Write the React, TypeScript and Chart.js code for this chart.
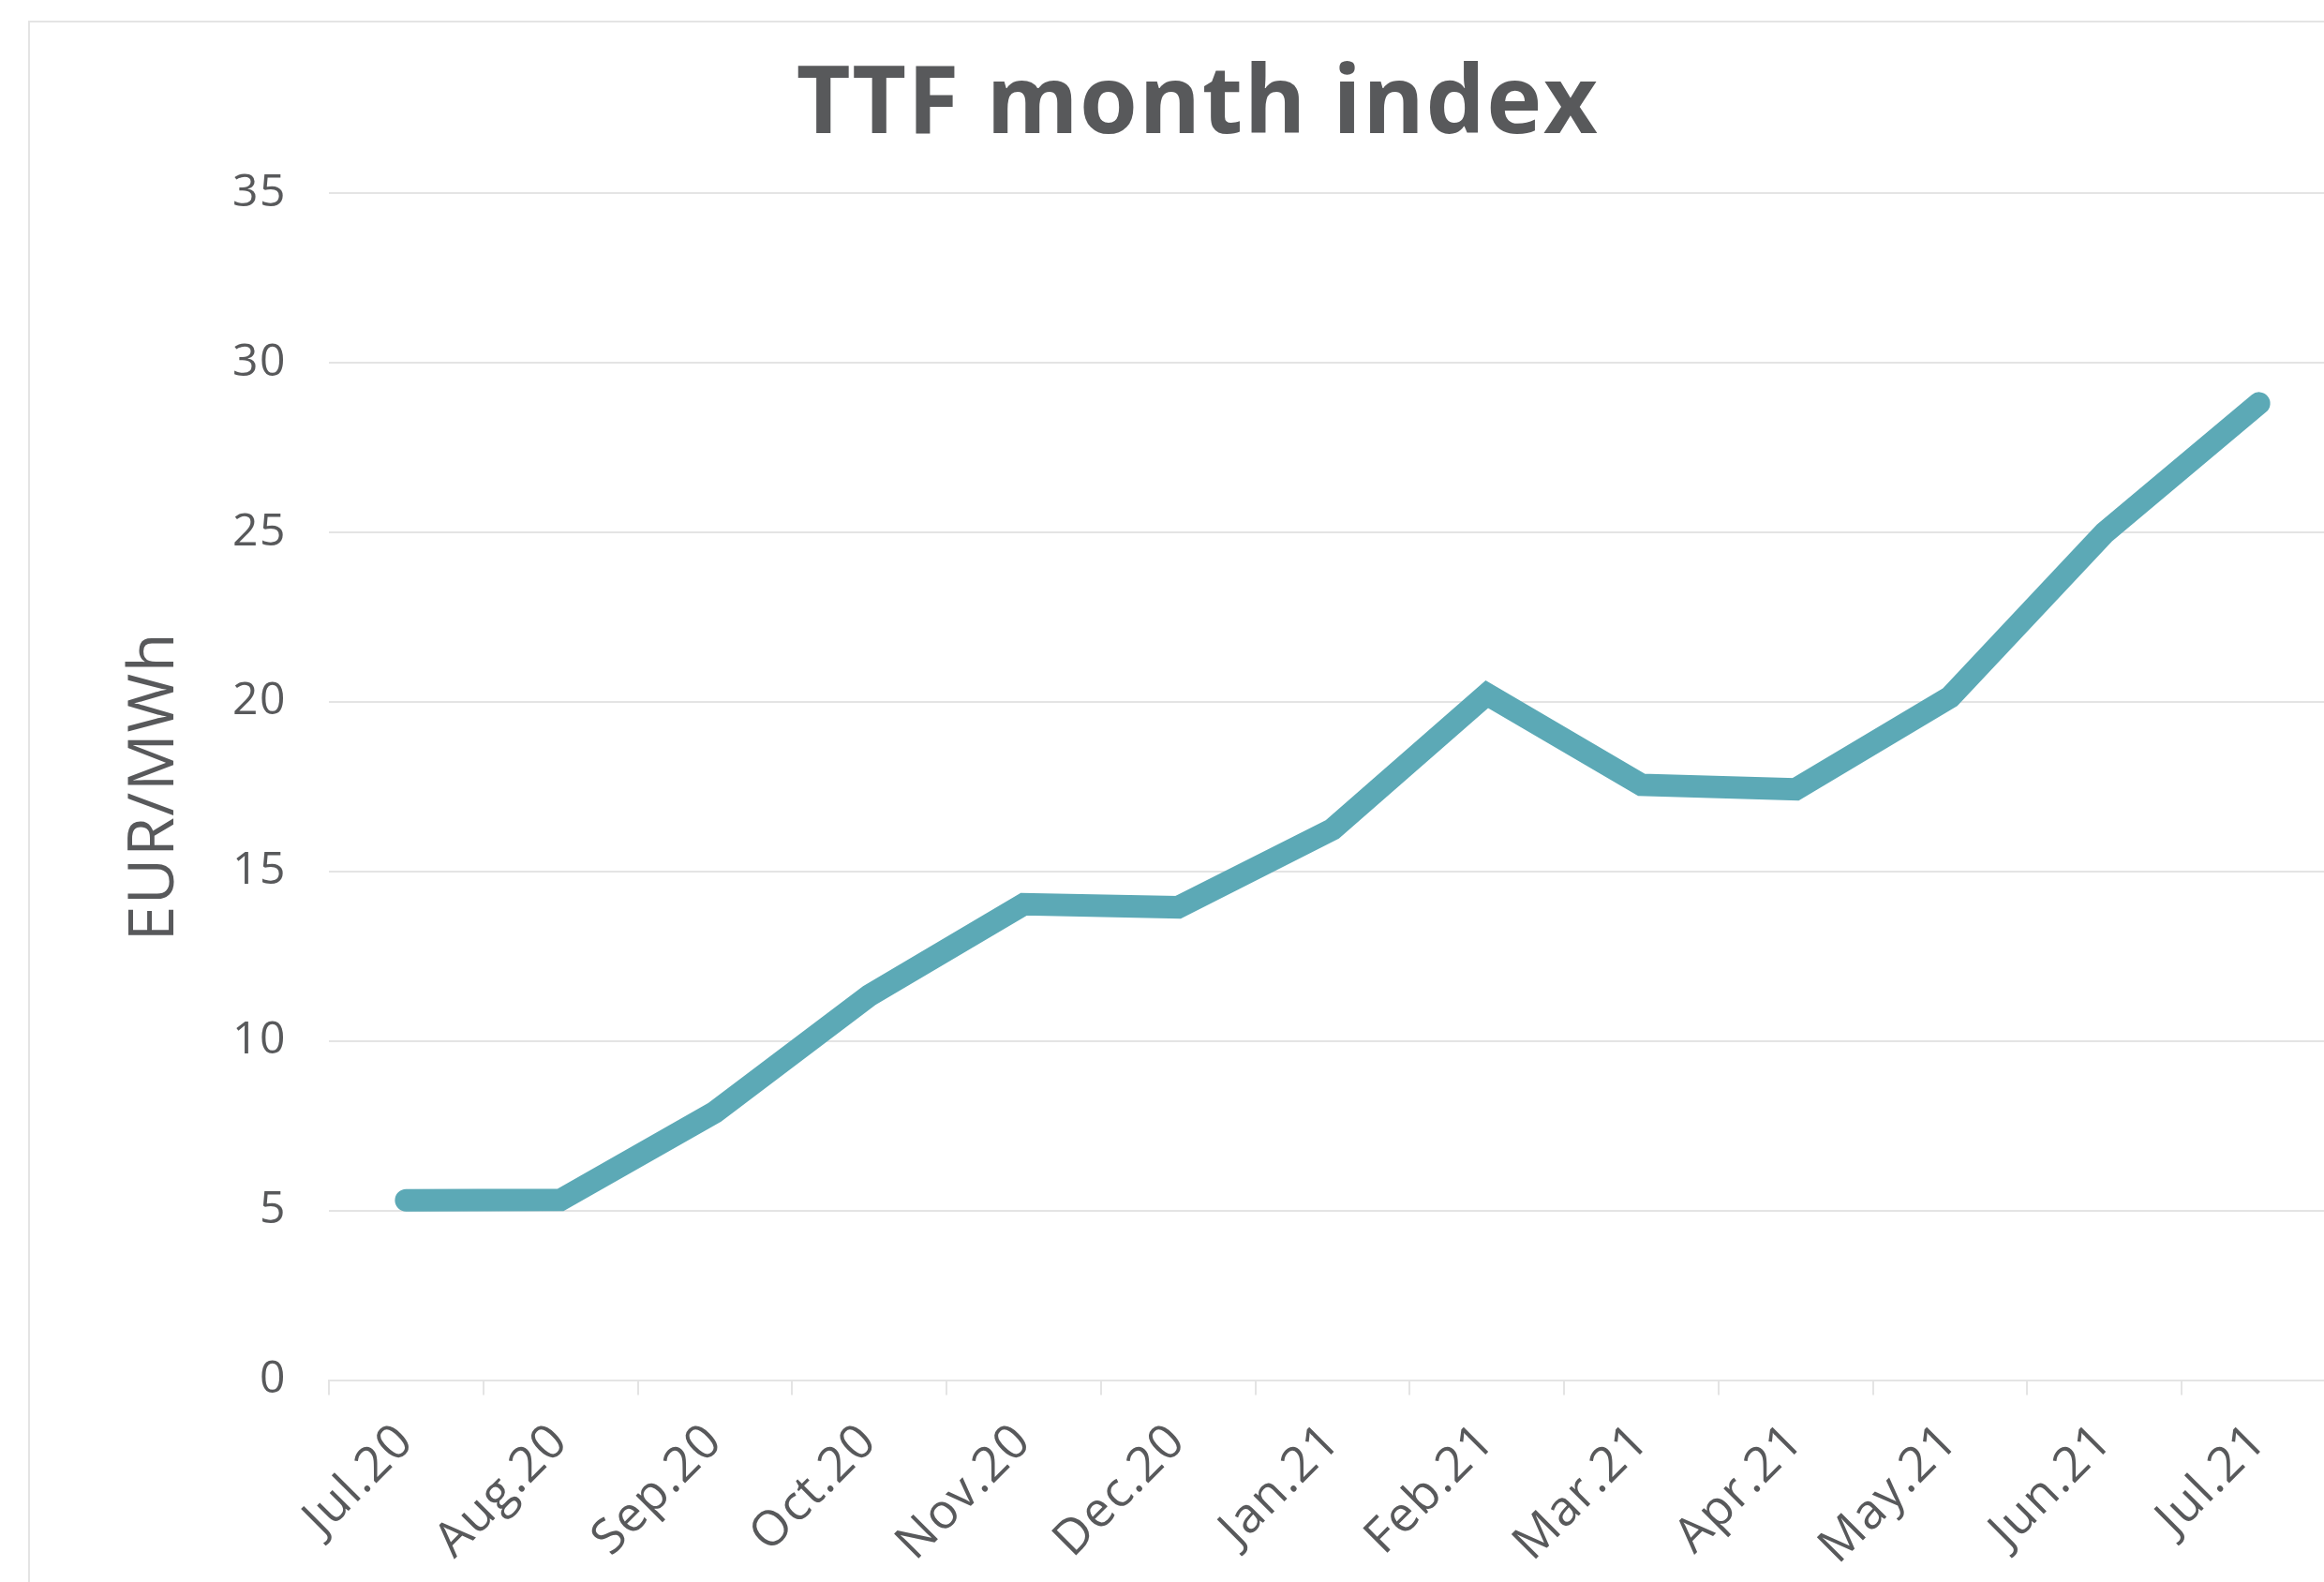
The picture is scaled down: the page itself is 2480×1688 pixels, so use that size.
import React, { useEffect, useRef } from 'react';
import { Chart, registerables } from 'chart.js';

Chart.register(...registerables);

// ---- data ----
const categories = ['Jul.20', 'Aug.20', 'Sep.20', 'Oct.20', 'Nov.20', 'Dec.20', 'Jan.21', 'Feb.21', 'Mar.21', 'Apr.21', 'May.21', 'Jun.21', 'Jul.21'];
const ttfIndex = [5.3, 5.31, 7.9, 11.34, 14.03, 13.94, 16.24, 20.22, 17.55, 17.42, 20.14, 24.98, 28.8];
const yMin = 0;
const yMax = 35;
const yStep = 5;
const titleText = 'TTF month index';
const yTitleText = 'EUR/MWh';

// ---- layout / style ----
const W = 2494;
const H = 1680;
const PAD_LEFT = 31;
const PAD_RIGHT = 33;
const PLOT_LEFT = 319;
const PLOT_BOTTOM = 1448.5;
const TEXT = '#58595b';
const GRID = '#e4e4e4';
const LINE = '#5ca9b6';
const FONT = "'Open Sans', 'DejaVu Sans', sans-serif";
const SPACING = '1.5px';

const spacingPlugin = {
  id: 'letterSpacing',
  beforeUpdate(chart: any) {
    if ('letterSpacing' in chart.ctx) chart.ctx.letterSpacing = SPACING;
  },
  beforeLayout(chart: any) {
    if ('letterSpacing' in chart.ctx) chart.ctx.letterSpacing = SPACING;
  },
  beforeDraw(chart: any) {
    if ('letterSpacing' in chart.ctx) chart.ctx.letterSpacing = SPACING;
  },
};

export default function App() {
  const ref = useRef<HTMLCanvasElement | null>(null);

  useEffect(() => {
    document.documentElement.style.overflow = 'hidden';
    document.body.style.overflow = 'hidden';
    let chart: Chart | null = null;
    let cancelled = false;
    const make = () => {
      if (cancelled || !ref.current) return;
      chart = new Chart(ref.current, {
        type: 'line',
        plugins: [spacingPlugin],
        data: {
          labels: categories,
          datasets: [
            {
              data: ttfIndex,
              borderColor: LINE,
              backgroundColor: LINE,
              borderWidth: 24,
              borderCapStyle: 'round',
              borderJoinStyle: 'miter',
              pointRadius: 0,
              pointHoverRadius: 0,
              tension: 0,
              fill: false,
            },
          ],
        },
        options: {
          responsive: false,
          animation: false,
          devicePixelRatio: 1,
          layout: { padding: { left: PAD_LEFT, right: PAD_RIGHT, top: 0, bottom: 0 } },
          plugins: {
            legend: { display: false },
            tooltip: { enabled: false },
            title: {
              display: true,
              text: titleText,
              color: TEXT,
              font: { family: FONT, size: 100, weight: 'bold', lineHeight: 1.2 },
              padding: { top: 30, bottom: 32 },
            },
          },
          scales: {
            x: {
              type: 'category',
              offset: true,
              grid: {
                offset: true,
                drawOnChartArea: false,
                drawTicks: true,
                tickLength: 16,
                color: GRID,
                lineWidth: 2,
              },
              border: { display: true, color: GRID, width: 2 },
              ticks: {
                autoSkip: false,
                maxRotation: 45,
                minRotation: 45,
                padding: 19,
                color: TEXT,
                font: { family: FONT, size: 52, weight: '400' },
              },
              afterFit: (s: any) => {
                s.height = H - PLOT_BOTTOM;
              },
            },
            y: {
              min: yMin,
              max: yMax,
              ticks: {
                stepSize: yStep,
                padding: 45,
                color: TEXT,
                font: { family: FONT, size: 48, weight: '400' },
              },
              grid: { drawTicks: false, color: GRID, lineWidth: 2 },
              border: { display: false },
              title: {
                display: true,
                text: yTitleText,
                color: TEXT,
                font: { family: FONT, size: 68, weight: '400', lineHeight: 1.2 },
                padding: { top: 93 - PAD_LEFT, bottom: 0 },
              },
              afterFit: (s: any) => {
                s.width = PLOT_LEFT - PAD_LEFT;
              },
            },
          },
        },
      });
    };
    const fontsReady = (document as any).fonts
      ? Promise.all([
          (document as any).fonts.load(`bold 100px ${FONT}`),
          (document as any).fonts.load(`48px ${FONT}`),
        ]).catch(() => null)
      : Promise.resolve(null);
    fontsReady.then(make);
    return () => {
      cancelled = true;
      if (chart) chart.destroy();
    };
  }, []);

  return (
    <div
      style={{
        position: 'absolute',
        left: 30,
        top: 22,
        width: 2500,
        height: 1720,
        borderTop: `2px solid ${GRID}`,
        borderLeft: `2px solid ${GRID}`,
        overflow: 'hidden',
        background: '#ffffff',
      }}
    >
      <canvas ref={ref} width={W} height={H} style={{ display: 'block', width: W, height: H }} />
    </div>
  );
}
